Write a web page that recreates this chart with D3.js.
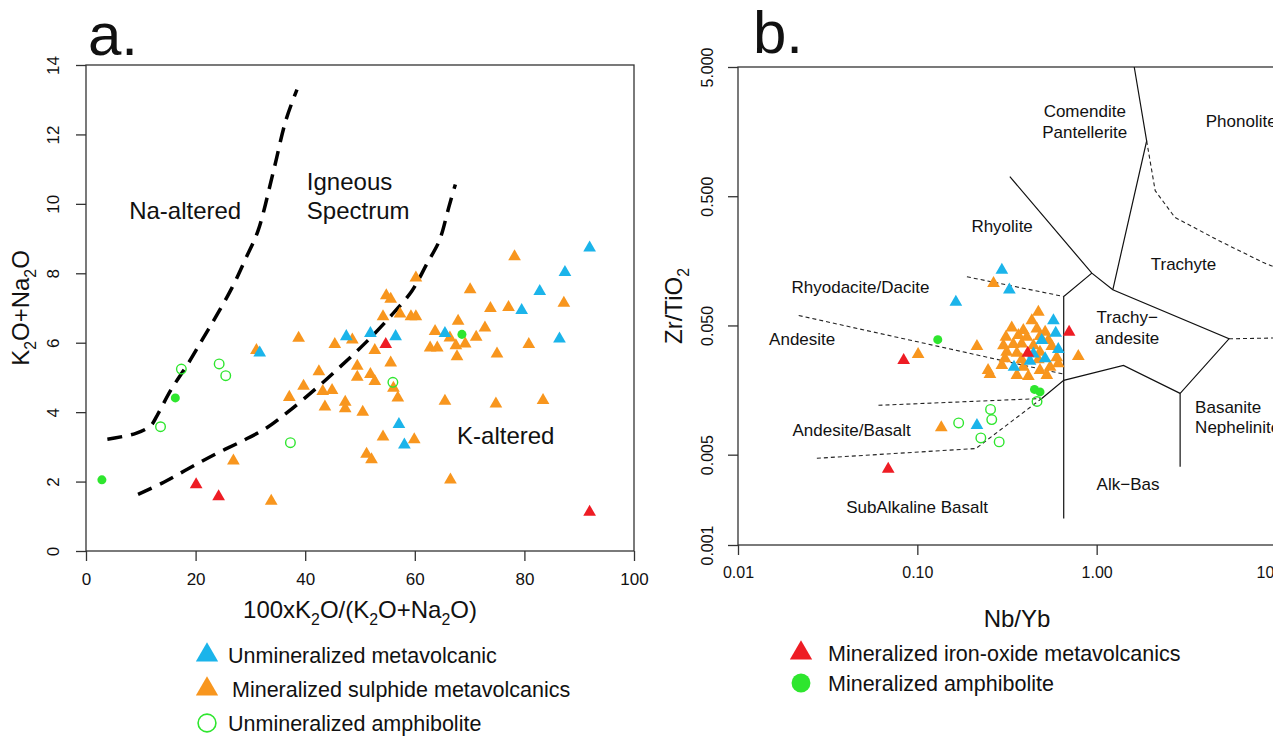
<!DOCTYPE html>
<html>
<head>
<meta charset="utf-8">
<script src="https://cdn.jsdelivr.net/npm/d3@7"></script>
<style>
  body { margin: 0; background: #fff; }
  text { font-family: "Liberation Sans", Arial, Helvetica, sans-serif; fill: #111; }
</style>
</head>
<body>
<div id="container"></div>
<script>
/* CONSTANTS AND GLOBALS */
const width = 1273, height = 736;

const colBlue = "#1bb4ea", colOrange = "#f8961e", colRed = "#ee1c24", colGreen = "#2ee62e";

/* DATA - panel a: [100xK2O/(K2O+Na2O), K2O+Na2O] */
const aUnminVolcanic = [[91.9,8.73],[87.4,8.03],[82.8,7.48],[79.5,6.93],[86.4,6.11],[65.5,6.27],
  [47.5,6.18],[51.9,6.27],[56.5,6.18],[31.7,5.71],[57.1,3.65],[58.1,3.06]];
const aSulphide = [[78.2,8.48],[60.2,7.87],[70.1,7.53],[54.8,7.36],[55.6,7.26],[87.2,7.14],[73.8,6.99],
  [77.1,7.02],[54.2,6.75],[57.3,6.83],[59.3,6.75],[60.2,6.75],[67.9,6.62],[72.8,6.43],[63.7,6.33],
  [66.4,6.14],[71.2,6.16],[38.8,6.13],[45.4,5.95],[48.6,6.08],[62.8,5.85],[64.1,5.85],[67.5,5.92],
  [69.2,5.97],[80.8,5.95],[67.7,5.60],[75.0,5.68],[52.7,5.78],[31.1,5.78],[55.6,5.42],[49.5,5.33],
  [42.5,5.17],[51.9,5.09],[49.5,5.01],[52.7,4.89],[39.7,4.75],[43.2,4.60],[44.9,4.63],[37.1,4.43],
  [56.1,4.69],[56.9,4.41],[43.6,4.15],[47.3,4.29],[47.3,4.10],[50.5,4.00],[65.5,4.32],[74.8,4.24],
  [83.4,4.34],[54.2,3.29],[59.9,3.21],[51.2,2.79],[52.1,2.63],[26.9,2.60],[66.5,2.05],[33.8,1.44]];
const aIronOxide = [[54.7,5.95],[20.1,1.91],[24.2,1.57],[91.9,1.12]];
const aUnminAmph = [[17.4,5.24],[24.3,5.39],[25.5,5.05],[56.0,4.86],[13.6,3.58],[37.3,3.12]];
const aMinAmph = [[16.3,4.41],[68.6,6.24],[2.9,2.05]];

// field boundaries (Hughes igneous spectrum)
const naLine = [[3.9,3.22],[9.1,3.39],[11.8,3.61],[13.0,3.91],[15.5,4.64],[18.6,5.39],[21.3,6.11],
  [23.6,6.72],[26.7,7.60],[29.1,8.41],[31.4,9.23],[34.1,10.87],[36.5,12.42],[38.5,13.29]];
const kLine = [[9.5,1.63],[14.2,1.98],[18.9,2.39],[23.6,2.79],[28.4,3.16],[33.0,3.55],[36.8,4.0],
  [41.9,4.67],[46.6,5.34],[51.4,6.06],[55.4,6.73],[59.5,7.50],[62.2,8.27],[64.2,8.84],[64.9,9.13],
  [66.2,9.90],[67.4,10.56]];

const aTicksX = [0, 20, 40, 60, 80, 100];
const aTicksY = [0, 2, 4, 6, 8, 10, 12, 14];
const aFieldLabels = [
  { t: "Na-altered", x: 18.1, y: 9.80, a: "middle" },
  { t: "Igneous", x: 40.3, y: 10.64, a: "start" },
  { t: "Spectrum", x: 40.3, y: 9.80, a: "start" },
  { t: "K-altered", x: 76.6, y: 3.33, a: "middle" }
];

/* DATA - panel b: [Nb/Yb, Zr/TiO2] */
const bUnminVolcanic = [[0.296,0.134],[0.326,0.0943],[0.164,0.0757],[0.574,0.0546],[0.591,0.0436],
  [0.494,0.0383],[0.611,0.0326],[0.444,0.0302],[0.516,0.0277],[0.425,0.0265],[0.346,0.0238],[0.215,0.00845]];
const bSulphide = [[0.266,0.106],[0.101,0.0299],[0.215,0.0344],[0.790,0.0288],[0.248,0.0225],[0.136,0.0081],
  [0.473,0.0634],[0.435,0.0546],[0.336,0.048],[0.390,0.0458],[0.464,0.0471],[0.516,0.0444],[0.312,0.0406],
  [0.366,0.0419],[0.408,0.0406],[0.483,0.0411],[0.538,0.0383],[0.302,0.035],[0.343,0.0357],[0.382,0.0361],
  [0.444,0.035],[0.562,0.0344],[0.315,0.0311],[0.359,0.0306],[0.483,0.0311],[0.308,0.0277],[0.382,0.0272],
  [0.473,0.0272],[0.599,0.0282],[0.296,0.0246],[0.390,0.0238],[0.550,0.0238],[0.611,0.0253],[0.483,0.0225],
  [0.359,0.0206],[0.416,0.0202],[0.527,0.0206],[0.254,0.0209]];
const bIronOxide = [[0.702,0.0444],[0.413,0.0306],[0.0839,0.0268],[0.0688,0.00386]];
const bUnminAmph = [[0.465,0.0129],[0.256,0.0112],[0.260,0.00935],[0.170,0.0088],[0.226,0.00674],[0.286,0.00628]];
const bMinAmph = [[0.130,0.0388],[0.450,0.0160],[0.483,0.0153]];

// field boundaries (Winchester & Floyd)
const bSolidLines = [
  [[1.62,5],[1.90,1.34],[1.23,0.0944]],
  [[0.328,0.708],[0.94,0.127],[1.23,0.0944],[5.47,0.0394],[2.92,0.0149],[2.92,0.00403]],
  [[0.94,0.127],[0.655,0.0838],[0.655,0.0016]],
  [[0.494,0.0136],[0.655,0.0188],[1.41,0.0245],[2.92,0.0149]]
];
const bDashLines = [
  [[5.47,0.0394],[10,0.04]],
  [[1.90,1.34],[2.12,0.552],[2.73,0.343],[4.82,0.226],[8.45,0.154],[10,0.14]],
  [[0.189,0.119],[0.655,0.0838]],
  [[0.0218,0.0597],[0.655,0.021]],
  [[0.0607,0.01205],[0.494,0.0136]],
  [[0.494,0.0136],[0.212,0.00558],[0.0269,0.00468]]
];

const bTicksX = [0.01, 0.1, 1, 10];
const bTicksY = [0.001, 0.005, 0.05, 0.5, 5];
const bFieldLabels = [
  { t: "Comendite", x: 0.858, y: 2.29, a: "middle" },
  { t: "Pantellerite", x: 0.858, y: 1.57, a: "middle" },
  { t: "Phonolite", x: 6.4, y: 1.91, a: "middle" },
  { t: "Rhyolite", x: 0.297, y: 0.296, a: "middle" },
  { t: "Trachyte", x: 3.05, y: 0.150, a: "middle" },
  { t: "Rhyodacite/Dacite", x: 0.0482, y: 0.0988, a: "middle" },
  { t: "Andesite", x: 0.0228, y: 0.0395, a: "middle" },
  { t: "Trachy\u2212", x: 1.48, y: 0.058, a: "middle" },
  { t: "andesite", x: 1.48, y: 0.040, a: "middle" },
  { t: "Basanite", x: 3.54, y: 0.0117, a: "start" },
  { t: "Nephelinite", x: 3.54, y: 0.0082, a: "start" },
  { t: "Andesite/Basalt", x: 0.043, y: 0.00773, a: "middle" },
  { t: "Alk\u2212Bas", x: 1.496, y: 0.00296, a: "middle" },
  { t: "SubAlkaline Basalt", x: 0.0996, y: 0.00197, a: "middle" }
];

const legendA = ["Unmineralized metavolcanic", "Mineralized sulphide metavolcanics", "Unmineralized amphibolite"];
const legendB = ["Mineralized iron-oxide metavolcanics", "Mineralized amphibolite"];

/* SCALES */
const xA = d3.scaleLinear().domain([0, 100]).range([86, 634]);
const yA = d3.scaleLinear().domain([0, 14]).range([551, 65]);
const xB = d3.scaleLog().domain([0.01, 10]).range([738, 1276]);
const yB = d3.scaleLog().domain([0.001, 5]).range([545, 67]);

/* SVG */
const svg = d3.select("#container").append("svg")
  .attr("width", width).attr("height", height)
  .style("display", "block");

const tri = s => d3.symbol(d3.symbolTriangle, s)();
const plotTri = tri(70), legTri = tri(215);

// subscript helper for the chemistry titles
function rich(t, parts, size) {
  let down = false;
  parts.forEach(([s, sub]) => {
    const ts = t.append("tspan").text(s);
    if (sub) { ts.attr("font-size", size * 0.66).attr("dy", down ? 0 : size * 0.28); down = true; }
    else { ts.attr("dy", down ? -size * 0.28 : 0); down = false; }
  });
}

function styleAxis(g, size) {
  g.attr("font-family", null).attr("font-size", null);
  g.select(".domain").remove();
  g.selectAll(".tick line").attr("stroke", "#333").attr("stroke-width", 1.3);
  g.selectAll(".tick text").attr("font-size", size).attr("fill", "#111");
}

function yAxisRotate(g, off) {
  g.selectAll(".tick text")
    .attr("x", null).attr("dy", null)
    .attr("transform", `translate(${-off},0) rotate(-90)`)
    .attr("text-anchor", "middle");
}

function points(g, data, x, y, kind, color) {
  const sel = g.append("g").selectAll("path").data(data).join("path")
    .attr("transform", d => `translate(${x(d[0])},${y(d[1])})`);
  if (kind === "tri") sel.attr("d", plotTri).attr("fill", color);
  else if (kind === "dot") sel.attr("d", d3.symbol(d3.symbolCircle, 64)()).attr("fill", color);
  else sel.attr("d", d3.symbol(d3.symbolCircle, 72)()).attr("fill", "none").attr("stroke", color).attr("stroke-width", 1.4);
}

/* PANEL A */
const gA = svg.append("g");
gA.append("g").attr("transform", "translate(0,551)")
  .call(d3.axisBottom(xA).tickValues(aTicksX).tickSize(10).tickPadding(12))
  .call(g => styleAxis(g, 17));
gA.append("g").attr("transform", "translate(86,0)")
  .call(d3.axisLeft(yA).tickValues(aTicksY).tickSize(10))
  .call(g => styleAxis(g, 17))
  .call(g => yAxisRotate(g, 27));
gA.append("rect").attr("x", xA(0)).attr("y", yA(14))
  .attr("width", xA(100) - xA(0)).attr("height", yA(0) - yA(14))
  .attr("fill", "none").attr("stroke", "#333").attr("stroke-width", 1.3);

const lineA = d3.line().x(d => xA(d[0])).y(d => yA(d[1])).curve(d3.curveCatmullRom);
gA.selectAll(".bound").data([naLine, kLine]).join("path")
  .attr("class", "bound").attr("d", lineA)
  .attr("fill", "none").attr("stroke", "#000").attr("stroke-width", 3.5)
  .attr("stroke-dasharray", "15,9");

gA.selectAll(".flab").data(aFieldLabels).join("text")
  .attr("class", "flab")
  .attr("x", d => xA(d.x)).attr("y", d => yA(d.y)).attr("dy", "0.35em")
  .attr("text-anchor", d => d.a).attr("font-size", 24).text(d => d.t);

points(gA, aSulphide, xA, yA, "tri", colOrange);
points(gA, aUnminVolcanic, xA, yA, "tri", colBlue);
points(gA, aIronOxide, xA, yA, "tri", colRed);
points(gA, aUnminAmph, xA, yA, "open", colGreen);
points(gA, aMinAmph, xA, yA, "dot", colGreen);

gA.append("text").attr("x", 88).attr("y", 55).attr("font-size", 60).text("a.");
rich(gA.append("text").attr("text-anchor", "middle").attr("font-size", 24)
  .attr("transform", `translate(29,${(yA(0) + yA(14)) / 2}) rotate(-90)`),
  [["K"], ["2", 1], ["O+Na"], ["2", 1], ["O"]], 24);
rich(gA.append("text").attr("text-anchor", "middle").attr("font-size", 24)
  .attr("x", (xA(0) + xA(100)) / 2).attr("y", 618),
  [["100xK"], ["2", 1], ["O/(K"], ["2", 1], ["O+Na"], ["2", 1], ["O)"]], 24);

// legend a
const legColsA = [colBlue, colOrange, colGreen];
const legA = gA.selectAll(".legA").data(legendA).join("g")
  .attr("class", "legA").attr("transform", (d, i) => `translate(207,${655 + i * 34})`);
legA.append("path")
  .attr("d", (d, i) => i < 2 ? legTri : d3.symbol(d3.symbolCircle, 250)())
  .attr("fill", (d, i) => i < 2 ? legColsA[i] : "none")
  .attr("stroke", (d, i) => i < 2 ? null : colGreen).attr("stroke-width", 1.6);
legA.append("text").attr("x", (d, i) => i === 1 ? 25 : 21).attr("dy", "0.35em")
  .attr("font-size", 21.5).text(d => d);

/* PANEL B */
const gB = svg.append("g");
gB.append("g").attr("transform", "translate(0,545)")
  .call(d3.axisBottom(xB).tickValues(bTicksX).tickFormat(d3.format(".2f")).tickSize(10).tickPadding(12))
  .call(g => styleAxis(g, 16));
gB.append("g").attr("transform", "translate(738,0)")
  .call(d3.axisLeft(yB).tickValues(bTicksY).tickFormat(d3.format(".3f")).tickSize(10))
  .call(g => styleAxis(g, 16))
  .call(g => yAxisRotate(g, 25));
gB.append("rect").attr("x", xB(0.01)).attr("y", yB(5))
  .attr("width", xB(10) - xB(0.01)).attr("height", yB(0.001) - yB(5))
  .attr("fill", "none").attr("stroke", "#333").attr("stroke-width", 1.3);

const lineB = d3.line().x(d => xB(d[0])).y(d => yB(d[1]));
gB.selectAll(".solid").data(bSolidLines).join("path")
  .attr("class", "solid").attr("d", lineB)
  .attr("fill", "none").attr("stroke", "#111").attr("stroke-width", 1.2);
gB.selectAll(".dash").data(bDashLines).join("path")
  .attr("class", "dash").attr("d", lineB.curve(d3.curveLinear))
  .attr("fill", "none").attr("stroke", "#222").attr("stroke-width", 1.1)
  .attr("stroke-dasharray", "4,3");

gB.selectAll(".blab").data(bFieldLabels).join("text")
  .attr("class", "blab")
  .attr("x", d => xB(d.x)).attr("y", d => yB(d.y)).attr("dy", "0.35em")
  .attr("text-anchor", d => d.a).attr("font-size", 17).text(d => d.t);

points(gB, bSulphide, xB, yB, "tri", colOrange);
points(gB, bUnminVolcanic, xB, yB, "tri", colBlue);
points(gB, bIronOxide, xB, yB, "tri", colRed);
points(gB, bUnminAmph, xB, yB, "open", colGreen);
points(gB, bMinAmph, xB, yB, "dot", colGreen);

gB.append("text").attr("x", 753).attr("y", 53).attr("font-size", 60).text("b.");
rich(gB.append("text").attr("text-anchor", "middle").attr("font-size", 24)
  .attr("transform", `translate(682,${(yB(0.001) + yB(5)) / 2}) rotate(-90)`),
  [["Zr/TiO"], ["2", 1]], 24);
gB.append("text").attr("text-anchor", "middle").attr("font-size", 24)
  .attr("x", 1017).attr("y", 627).text("Nb/Yb");

// legend b
const legB = gB.selectAll(".legB").data(legendB).join("g")
  .attr("class", "legB").attr("transform", (d, i) => `translate(801,${653 + i * 30})`);
legB.append("path")
  .attr("d", (d, i) => i === 0 ? legTri : d3.symbol(d3.symbolCircle, 280)())
  .attr("fill", (d, i) => i === 0 ? colRed : colGreen);
legB.append("text").attr("x", 27).attr("dy", "0.35em")
  .attr("font-size", 21.5).text(d => d);
</script>
</body>
</html>
